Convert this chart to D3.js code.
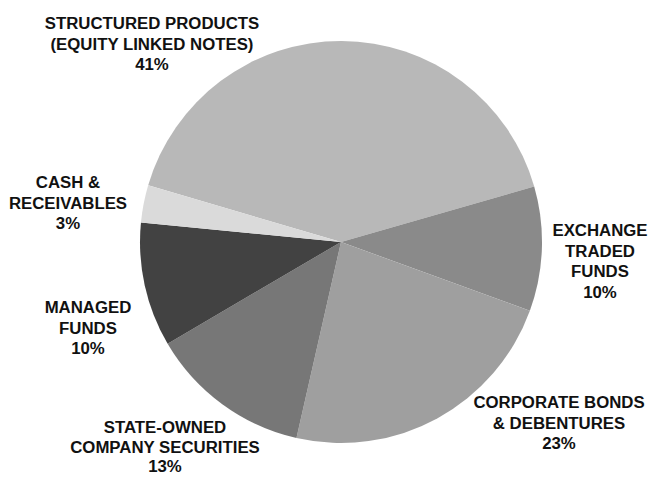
<!DOCTYPE html>
<html>
<head>
<meta charset="utf-8">
<script src="https://cdn.jsdelivr.net/npm/d3@7"></script>
<style>
  html, body { margin: 0; padding: 0; background: #fff; }
  svg { display: block; }
  text { font-family: "Liberation Sans", Arial, sans-serif; font-weight: bold; fill: #111; }
</style>
</head>
<body>
<svg id="chart" width="649" height="478"></svg>
<script>
// Portfolio allocation, clockwise from the large structured-products slice
const categories = [
  "STRUCTURED PRODUCTS (EQUITY LINKED NOTES)",
  "EXCHANGE TRADED FUNDS",
  "CORPORATE BONDS & DEBENTURES",
  "STATE-OWNED COMPANY SECURITIES",
  "MANAGED FUNDS",
  "CASH & RECEIVABLES"
];
const values = [41, 10, 23, 13, 10, 3];
const sliceColors = ["#b8b8b8", "#8a8a8a", "#9f9f9f", "#777777", "#424242", "#dadada"];

// Label text split into lines, and where each label block sits
const labelLines = [
  ["STRUCTURED PRODUCTS", "(EQUITY LINKED NOTES)", "41%"],
  ["EXCHANGE", "TRADED", "FUNDS", "10%"],
  ["CORPORATE BONDS", "& DEBENTURES", "23%"],
  ["STATE-OWNED", "COMPANY SECURITIES", "13%"],
  ["MANAGED", "FUNDS", "10%"],
  ["CASH &", "RECEIVABLES", "3%"]
];
const labelAnchors = [
  [152, 29], [600, 236], [559, 408], [165, 433], [88, 313], [68, 188]
];
const lineGaps = [20.5, 20.5, 20.5, 19.5, 20.5, 20.5];

const svg = d3.select("#chart");
const cx = 341, cy = 242, radius = 201;
const startDeg = -73.6;

const data = categories.map((c, i) => ({ name: c, value: values[i], color: sliceColors[i] }));

const pie = d3.pie()
  .value(d => d.value)
  .sort(null)
  .startAngle(startDeg * Math.PI / 180)
  .endAngle((startDeg + 360) * Math.PI / 180);

const arc = d3.arc().innerRadius(0).outerRadius(radius);

svg.append("g")
  .attr("transform", `translate(${cx},${cy})`)
  .selectAll("path")
  .data(pie(data))
  .join("path")
  .attr("d", arc)
  .attr("fill", d => d.data.color);

const labels = svg.append("g");
labelLines.forEach((lines, i) => {
  const t = labels.append("text")
    .attr("x", labelAnchors[i][0])
    .attr("y", labelAnchors[i][1])
    .attr("text-anchor", "middle")
    .style("font-size", "16.8px");
  lines.forEach((ln, j) => {
    t.append("tspan")
      .attr("x", labelAnchors[i][0])
      .attr("dy", j === 0 ? 0 : lineGaps[i])
      .text(ln);
  });
});
</script>
</body>
</html>
